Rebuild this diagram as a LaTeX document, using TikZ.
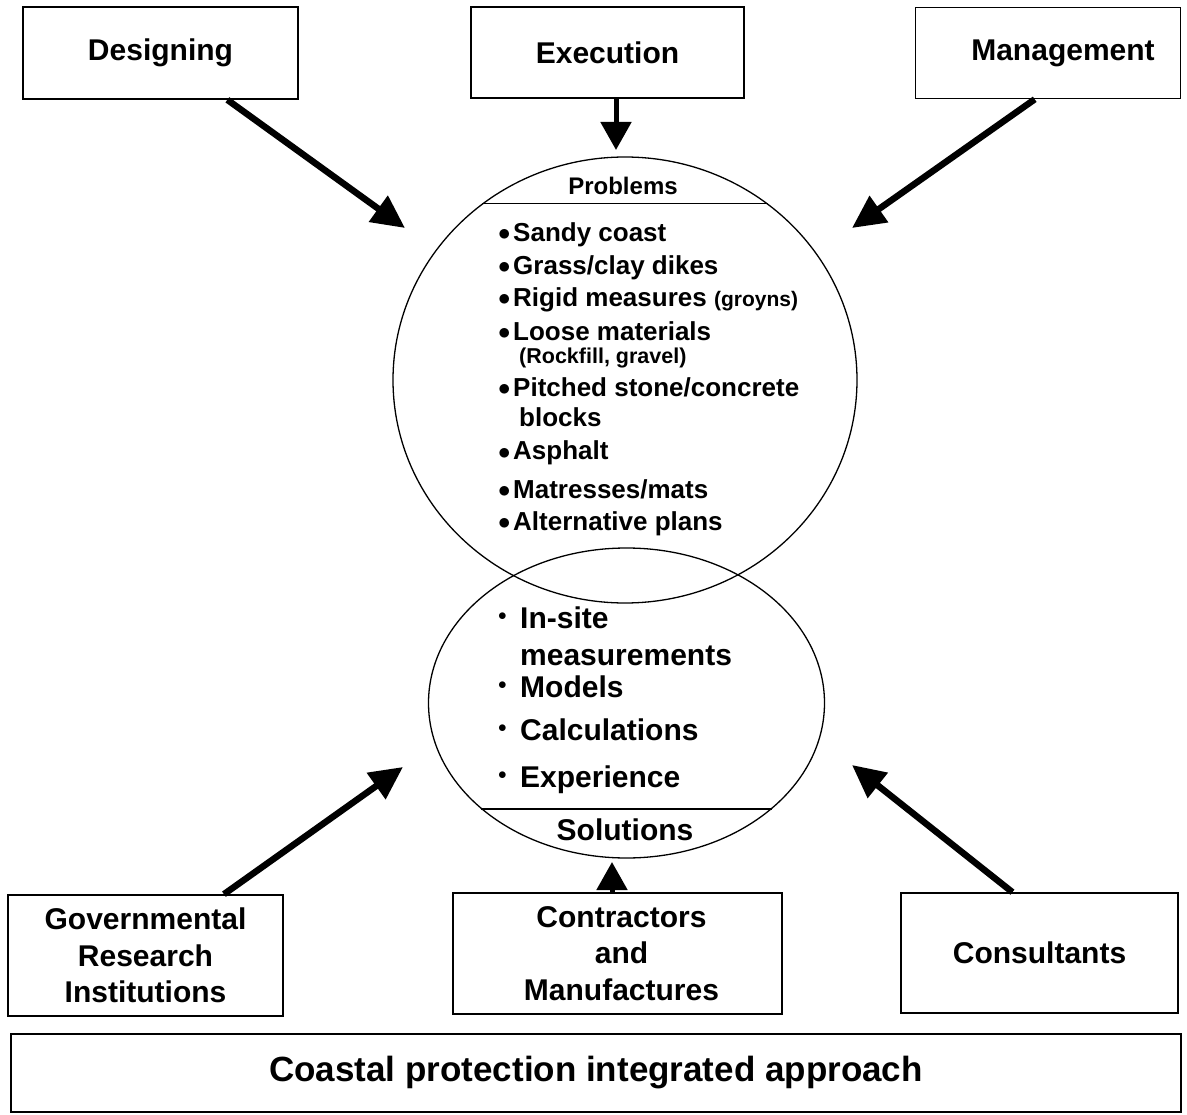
\documentclass[tikz,border=0pt]{standalone}
\usepackage{fontspec}
\setmainfont{Liberation Sans}
\usetikzlibrary{shapes.geometric,arrows.meta}

\newcommand{\itembul}{\makebox[15pt][l]{\raisebox{1pt}{\fontsize{23}{23}\selectfont$\bullet$}}}
\newcommand{\highbul}{\makebox[22pt][l]{\raisebox{8pt}{\fontsize{18}{18}\selectfont$\bullet$}}}

\begin{document}
\begin{tikzpicture}[
                x=1pt, y=-1pt,
                box/.style={draw, line width=1.6pt, inner sep=0pt, align=center,
                    font=\bfseries\fontsize{30}{36.5}\selectfont},
                ring/.style={draw, ellipse, line width=1.3pt, inner sep=0pt},
                item/.style={anchor=base west, inner sep=0pt,
                    font=\bfseries\fontsize{26}{26}\selectfont},
                bigitem/.style={anchor=base west, inner sep=0pt,
                    font=\bfseries\fontsize{30}{30}\selectfont},
                thick arrow/.style={line width=6.5pt, -{Triangle[length=33pt,width=31pt]}},
                short arrow/.style={line width=5pt, -{Triangle[length=28pt,width=30pt]}}
            ]
                \useasboundingbox (0,0) rectangle (1187,1115);

                % top row
                \node[box, minimum width=275pt, minimum height=92pt] (design) at (160.5,53) {Designing};
                \node[box, minimum width=273pt, minimum height=91pt] (exec) at (607.5,52.5) {Execution};
                \node[box, minimum width=265pt, minimum height=91pt] (mgmt) at (1048,53) {\hspace*{30pt}Management};

                % the two rings
                \node[ring, minimum width=464pt, minimum height=446pt] (prob) at (625,380) {};
                \node[ring, minimum width=396pt, minimum height=310pt] (sol) at (626.5,703) {};
                \draw[line width=1.6pt] (prob.129) -- (prob.51);
                \draw[line width=1.6pt] (sol.-144) -- (sol.-36);

                \node[anchor=base, inner sep=0pt, font=\bfseries\fontsize{24}{24}\selectfont] (probhead) at (623,195) {Problems};
                \node[anchor=base, inner sep=0pt, font=\bfseries\fontsize{30}{30}\selectfont] (solhead) at (625,840) {Solutions};

                \node[item] (p1) at (498,242) {\itembul Sandy coast};
                \node[item] (p2) at (498,275) {\itembul Grass/clay dikes};
                \node[item] (p3) at (498,307) {\itembul Rigid measures {\fontsize{21}{21}\selectfont(groyns)}};
                \node[item] (p4) at (498,341) {\itembul Loose materials};
                \node[item, font=\bfseries\fontsize{21.5}{21.5}\selectfont] (p4b) at (519,364) {(Rockfill, gravel)};
                \node[item] (p5) at (498,397) {\itembul Pitched stone/concrete};
                \node[item] (p5b) at (519,427) {blocks};
                \node[item] (p6) at (498,460) {\itembul Asphalt};
                \node[item] (p7) at (498,498) {\itembul Matresses/mats};
                \node[item] (p8) at (498,530) {\itembul Alternative plans};

                \node[bigitem] (s1) at (498,628) {\highbul In-site};
                \node[bigitem] (s1b) at (520,665) {measurements};
                \node[bigitem] (s2) at (498,697) {\highbul Models};
                \node[bigitem] (s3) at (498,740) {\highbul Calculations};
                \node[bigitem] (s4) at (498,787) {\highbul Experience};

                % bottom row
                \node[box, minimum width=275pt, minimum height=121pt] (gov) at (145.5,955.5) {Governmental\\Research\\Institutions};
                \node[box, minimum width=329pt, minimum height=121pt] (contr) at (617.5,953.5) {\hspace*{8pt}Contractors\\\hspace*{8pt}and\\\hspace*{8pt}Manufactures};
                \node[box, minimum width=277pt, minimum height=120pt] (consult) at (1039.5,953) {Consultants};
                \node[box, minimum width=1170pt, minimum height=78pt,
                    font=\bfseries\fontsize{35}{35}\selectfont] (approach) at (596,1073) {Coastal protection integrated approach};

                % arrow tips
                \coordinate (dtip) at (405,228);
                \coordinate (etip) at (616,150);
                \coordinate (mtip) at (852,228);
                \coordinate (gtip) at (403,767);
                \coordinate (ctip) at (612,862);
                \coordinate (ktip) at (852,765);

                \draw[thick arrow] (design.-35) -- (dtip);
                \draw[short arrow] (exec.south -| etip) -- (etip);
                \draw[thick arrow] (mgmt.-106) -- (mtip);
                \draw[thick arrow] (gov.38) -- (gtip);
                \draw[short arrow] (contr.north -| ctip) -- (ctip);
                \draw[thick arrow] (consult.114) -- (ktip);
            \end{tikzpicture}
\end{document}
